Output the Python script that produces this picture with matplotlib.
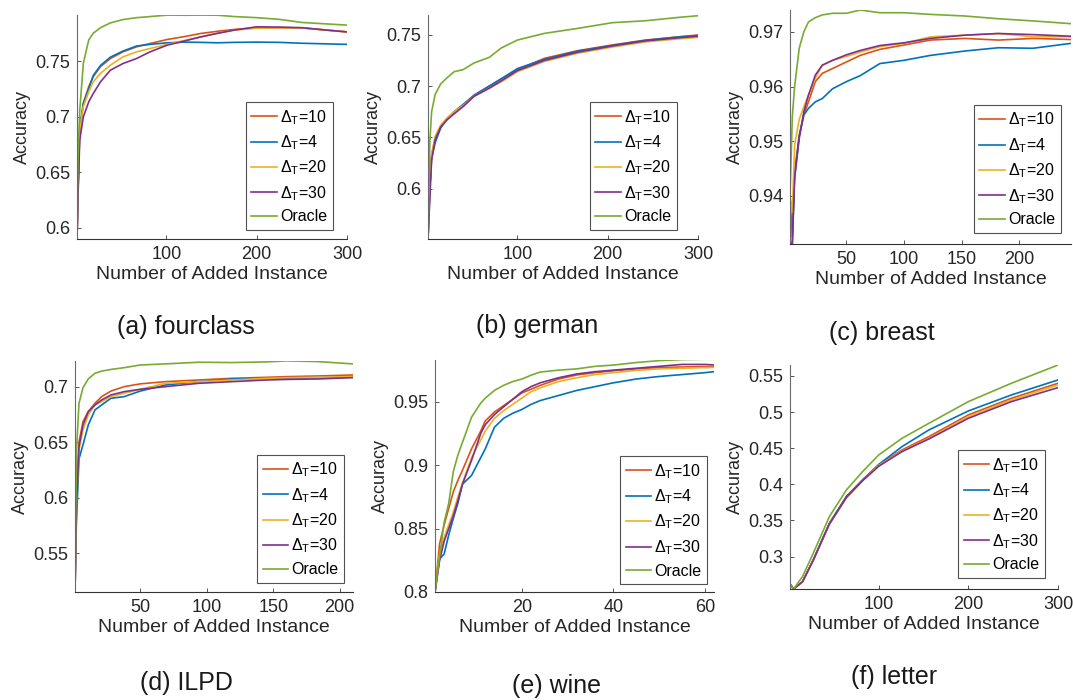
import matplotlib
matplotlib.use("Agg")
import matplotlib.pyplot as plt

plt.rcParams["font.family"] = ["Liberation Sans", "DejaVu Sans"]
plt.rcParams["mathtext.fontset"] = "custom"
plt.rcParams["mathtext.rm"] = "Liberation Sans"
plt.rcParams["mathtext.it"] = "Liberation Sans:italic"
plt.rcParams["mathtext.bf"] = "Liberation Sans:bold"

# MATLAB default line colours
C_D10 = "#D95319"
C_D4 = "#0072BD"
C_D20 = "#EDB120"
C_D30 = "#7E2F8E"
C_ORACLE = "#77AC30"

labels = [r"$\Delta_{\mathrm{T}}$=10", r"$\Delta_{\mathrm{T}}$=4",
          r"$\Delta_{\mathrm{T}}$=20", r"$\Delta_{\mathrm{T}}$=30", "Oracle"]
colors = [C_D10, C_D4, C_D20, C_D30, C_ORACLE]

# (a) fourclass
fourclass_x = [1, 2, 4, 8, 14, 19, 27, 38, 52, 67, 82, 101, 120, 138, 157, 175, 200, 225, 250, 275, 300]
fourclass_d10 = [0.59, 0.63, 0.688, 0.712, 0.727, 0.736, 0.745, 0.7523, 0.7583, 0.7628, 0.7658, 0.7694, 0.772,
                 0.7748, 0.7768, 0.7784, 0.7798, 0.780, 0.7798, 0.778, 0.7762]
fourclass_d4 = [0.59, 0.63, 0.688, 0.712, 0.725, 0.737, 0.746, 0.7535, 0.759, 0.7635, 0.765, 0.7664, 0.767,
                0.7668, 0.7664, 0.7668, 0.767, 0.7668, 0.766, 0.7655, 0.765]
fourclass_d20 = [0.59, 0.635, 0.6878, 0.709, 0.7223, 0.7313, 0.739, 0.7463, 0.7538, 0.7583, 0.7613, 0.765, 0.7685,
                 0.7717, 0.775, 0.7778, 0.7795, 0.780, 0.7798, 0.778, 0.7762]
fourclass_d30 = [0.59, 0.625, 0.6788, 0.6998, 0.7133, 0.7208, 0.7313, 0.7418, 0.7478, 0.7523, 0.7583, 0.7643, 0.768,
                 0.7717, 0.775, 0.7778, 0.7808, 0.7805, 0.780, 0.778, 0.7762]
fourclass_oracle = [0.59, 0.66, 0.705, 0.748, 0.769, 0.775, 0.780, 0.7843, 0.7873, 0.789, 0.790, 0.7913, 0.7912,
                    0.7913, 0.7912, 0.790, 0.789, 0.7875, 0.7847, 0.7835, 0.7823]

# (b) german
german_x = [1, 3, 5, 9, 15, 22, 30, 40, 52, 69, 82, 100, 130, 167, 205, 242, 279, 300]
german_d10 = [0.551, 0.60, 0.633, 0.650, 0.660, 0.668, 0.675, 0.682, 0.691, 0.700, 0.707, 0.716, 0.727, 0.7345,
              0.740, 0.7448, 0.748, 0.7497]
german_d4 = [0.551, 0.60, 0.630, 0.645, 0.659, 0.668, 0.675, 0.682, 0.691, 0.700, 0.707, 0.717, 0.726, 0.734,
             0.7395, 0.7445, 0.7478, 0.7492]
german_d20 = [0.551, 0.60, 0.633, 0.651, 0.662, 0.669, 0.675, 0.681, 0.690, 0.698, 0.704, 0.714, 0.724, 0.732,
              0.738, 0.743, 0.746, 0.7474]
german_d30 = [0.551, 0.59, 0.628, 0.648, 0.660, 0.667, 0.673, 0.680, 0.690, 0.698, 0.705, 0.715, 0.725, 0.733,
              0.739, 0.744, 0.747, 0.7485]
german_oracle = [0.551, 0.645, 0.675, 0.692, 0.702, 0.708, 0.714, 0.716, 0.7225, 0.728, 0.737, 0.7448, 0.7513,
                 0.7562, 0.7617, 0.7636, 0.7669, 0.7685]

# (c) breast
breast_x = [1, 3, 5, 9, 13, 17, 23, 29, 38, 50, 62, 79, 100, 123, 153, 182, 212, 245]
breast_d10 = [0.940, 0.9325, 0.9444, 0.951, 0.9548, 0.9572, 0.9609, 0.9624, 0.9633, 0.9645, 0.9657, 0.9668, 0.9676,
              0.9685, 0.9688, 0.9685, 0.9688, 0.9686]
breast_d4 = [0.9315, 0.9312, 0.9437, 0.951, 0.9548, 0.956, 0.9572, 0.9578, 0.9596, 0.9609, 0.962, 0.9642, 0.9648,
             0.9657, 0.9665, 0.9671, 0.967, 0.9679]
breast_d20 = [0.940, 0.937, 0.9493, 0.954, 0.9563, 0.9584, 0.9615, 0.9639, 0.9648, 0.9655, 0.9663, 0.9673, 0.9679,
              0.9691, 0.9694, 0.9697, 0.9691, 0.9691]
breast_d30 = [0.9315, 0.9312, 0.9431, 0.9505, 0.9554, 0.9584, 0.9621, 0.9639, 0.9648, 0.9658, 0.9666, 0.9675, 0.968,
              0.9688, 0.9694, 0.9697, 0.9695, 0.9692]
breast_oracle = [0.940, 0.9545, 0.960, 0.967, 0.970, 0.9718, 0.9726, 0.9731, 0.9734, 0.9734, 0.974, 0.9735, 0.9735,
                 0.9732, 0.9729, 0.9724, 0.972, 0.9715]

# (d) ILPD
ilpd_x = [1, 2, 4, 7, 11, 16, 21, 28, 38, 50, 69, 94, 119, 145, 160, 183, 210]
ilpd_d10 = [0.515, 0.60, 0.650, 0.6685, 0.6775, 0.685, 0.691, 0.696, 0.700, 0.7025, 0.7045, 0.706, 0.7075, 0.7084,
            0.709, 0.7096, 0.7105]
ilpd_d4 = [0.515, 0.575, 0.635, 0.6475, 0.6655, 0.679, 0.6835, 0.6895, 0.691, 0.696, 0.7015, 0.7045, 0.7069, 0.7075,
           0.7078, 0.7081, 0.709]
ilpd_d20 = [0.515, 0.59, 0.643, 0.661, 0.6745, 0.6835, 0.6865, 0.691, 0.694, 0.6976, 0.703, 0.7045, 0.706, 0.7075,
            0.708, 0.7085, 0.709]
ilpd_d30 = [0.515, 0.59, 0.646, 0.6655, 0.6775, 0.6835, 0.688, 0.6925, 0.6955, 0.6976, 0.700, 0.703, 0.7045, 0.706,
            0.7065, 0.7069, 0.7081]
ilpd_oracle = [0.515, 0.64, 0.685, 0.699, 0.707, 0.712, 0.714, 0.7155, 0.7171, 0.7195, 0.7205, 0.722, 0.7217,
               0.7223, 0.7232, 0.7226, 0.7205]

# (e) wine
wine_x = [1, 2, 3, 4, 5, 6, 7, 9, 11, 12, 14, 16, 18, 20, 22, 24, 28, 32, 36, 40, 45, 50, 55, 60, 62]
wine_d10 = [0.80, 0.838, 0.853, 0.866, 0.879, 0.888, 0.896, 0.913, 0.927, 0.935, 0.942, 0.947, 0.952, 0.957, 0.960,
            0.963, 0.968, 0.9712, 0.973, 0.9745, 0.976, 0.977, 0.9775, 0.9778, 0.9778]
wine_d4 = [0.80, 0.826, 0.830, 0.845, 0.858, 0.870, 0.885, 0.892, 0.906, 0.913, 0.930, 0.937, 0.941, 0.944, 0.948,
           0.951, 0.955, 0.959, 0.962, 0.965, 0.968, 0.970, 0.9715, 0.973, 0.9738]
wine_d20 = [0.80, 0.830, 0.843, 0.853, 0.863, 0.875, 0.886, 0.906, 0.920, 0.927, 0.937, 0.943, 0.948, 0.953, 0.958,
            0.961, 0.966, 0.969, 0.9715, 0.973, 0.9748, 0.976, 0.9765, 0.977, 0.9772]
wine_d30 = [0.80, 0.825, 0.840, 0.850, 0.860, 0.872, 0.885, 0.904, 0.925, 0.932, 0.940, 0.946, 0.952, 0.958, 0.962,
            0.965, 0.969, 0.972, 0.9738, 0.975, 0.9765, 0.978, 0.9795, 0.9795, 0.9791]
wine_oracle = [0.80, 0.828, 0.855, 0.870, 0.895, 0.908, 0.918, 0.938, 0.949, 0.953, 0.959, 0.963, 0.966, 0.968,
               0.971, 0.9735, 0.975, 0.976, 0.978, 0.979, 0.981, 0.9825, 0.9833, 0.9836, 0.9836]

# (f) letter
letter_x = [1, 5, 15, 27, 45, 64, 82, 100, 126, 156, 200, 248, 300]
letter_d10 = [0.262, 0.255, 0.2654, 0.2954, 0.3461, 0.383, 0.4061, 0.4268, 0.4476, 0.4661, 0.4961, 0.5191, 0.5399]
letter_d4 = [0.262, 0.255, 0.2654, 0.2954, 0.3461, 0.383, 0.4061, 0.4275, 0.4522, 0.4753, 0.5016, 0.5237, 0.5445]
letter_d20 = [0.262, 0.255, 0.2650, 0.2945, 0.345, 0.381, 0.405, 0.4262, 0.446, 0.4637, 0.4937, 0.5168, 0.5376]
letter_d30 = [0.262, 0.255, 0.2650, 0.2950, 0.345, 0.382, 0.405, 0.425, 0.4453, 0.4628, 0.4914, 0.5145, 0.5339]
letter_oracle = [0.262, 0.255, 0.2723, 0.3046, 0.3554, 0.3923, 0.4176, 0.4407, 0.4637, 0.4845, 0.5145, 0.5399,
                 0.5652]

panels = [
    dict(x=fourclass_x, ys=[fourclass_d10, fourclass_d4, fourclass_d20, fourclass_d30, fourclass_oracle],
         rect=[77, 15, 270, 224], xlim=(1, 300), ylim=(0.59, 0.7914),
         xticks=[100, 200, 300], yticks=[0.6, 0.65, 0.7, 0.75], ylabels=["0.6", "0.65", "0.7", "0.75"],
         leg=(0.948, 0.04), caption="(a) fourclass", cap=(186, 327)),
    dict(x=german_x, ys=[german_d10, german_d4, german_d20, german_d30, german_oracle],
         rect=[428, 15, 270, 224], xlim=(1, 300), ylim=(0.551, 0.7692),
         xticks=[100, 200, 300], yticks=[0.6, 0.65, 0.7, 0.75], ylabels=["0.6", "0.65", "0.7", "0.75"],
         leg=(0.922, 0.04), caption="(b) german", cap=(537, 326)),
    dict(x=breast_x, ys=[breast_d10, breast_d4, breast_d20, breast_d30, breast_oracle],
         rect=[790, 10, 281, 234], xlim=(1, 245), ylim=(0.9312, 0.974),
         xticks=[50, 100, 150, 200], yticks=[0.94, 0.95, 0.96, 0.97], ylabels=["0.94", "0.95", "0.96", "0.97"],
         leg=(0.963, 0.047), caption="(c) breast", cap=(882, 333)),
    dict(x=ilpd_x, ys=[ilpd_d10, ilpd_d4, ilpd_d20, ilpd_d30, ilpd_oracle],
         rect=[75, 361, 278, 231], xlim=(1, 210), ylim=(0.515, 0.7231),
         xticks=[50, 100, 150, 200], yticks=[0.55, 0.6, 0.65, 0.7], ylabels=["0.55", "0.6", "0.65", "0.7"],
         leg=(0.968, 0.04), caption="(d) ILPD", cap=(186, 683)),
    dict(x=wine_x, ys=[wine_d10, wine_d4, wine_d20, wine_d30, wine_oracle],
         rect=[435, 360, 279, 232], xlim=(1, 62), ylim=(0.8, 0.983),
         xticks=[20, 40, 60], yticks=[0.8, 0.85, 0.9, 0.95], ylabels=["0.8", "0.85", "0.9", "0.95"],
         leg=(0.975, 0.034), caption="(e) wine", cap=(556, 686)),
    dict(x=letter_x, ys=[letter_d10, letter_d4, letter_d20, letter_d30, letter_oracle],
         rect=[790, 365, 268, 224], xlim=(1, 300), ylim=(0.255, 0.5652),
         xticks=[100, 200, 300], yticks=[0.3, 0.35, 0.4, 0.45, 0.5, 0.55],
         ylabels=["0.3", "0.35", "0.4", "0.45", "0.5", "0.55"],
         leg=(0.952, 0.049), caption="(f) letter", cap=(894, 677)),
]

W, H = 1073, 700
fig = plt.figure(figsize=(W / 100, H / 100), dpi=100)

for p in panels:
    l, t, w, h = p["rect"]
    ax = fig.add_axes([l / W, 1 - (t + h) / H, w / W, h / H])
    for y, c, lab in zip(p["ys"], colors, labels):
        ax.plot(p["x"], y, color=c, lw=1.2, label=lab)
    ax.set_xlim(*p["xlim"])
    ax.set_ylim(*p["ylim"])
    ax.set_xticks(p["xticks"])
    ax.set_yticks(p["yticks"])
    ax.set_yticklabels(p["ylabels"])
    for s in ["top", "right"]:
        ax.spines[s].set_visible(False)
    ax.spines["left"].set_color("#6a6a6a")
    ax.spines["bottom"].set_color("#333333")
    for s in ["left", "bottom"]:
        ax.spines[s].set_linewidth(0.8)
    ax.tick_params(direction="in", length=3, width=0.6, colors="#3a3a3a",
                   labelsize=13, labelcolor="#262626", pad=5)
    ax.set_xlabel("Number of Added Instance", fontsize=14, color="#262626", labelpad=2)
    ax.set_ylabel("Accuracy", fontsize=13, color="#262626", labelpad=3)
    leg = ax.legend(loc="lower right", bbox_to_anchor=p["leg"], borderaxespad=0,
                    fontsize=11.5, frameon=True, fancybox=False, edgecolor="#262626",
                    handlelength=1.6, handletextpad=0.2, labelspacing=0.42,
                    borderpad=0.35)
    leg.get_frame().set_linewidth(0.8)
    cx, cy = p["cap"]
    fig.text(cx / W, 1 - cy / H, p["caption"], fontsize=18, ha="center", va="center",
             color="#1a1a1a")

fig.savefig("out.png", dpi=100)
